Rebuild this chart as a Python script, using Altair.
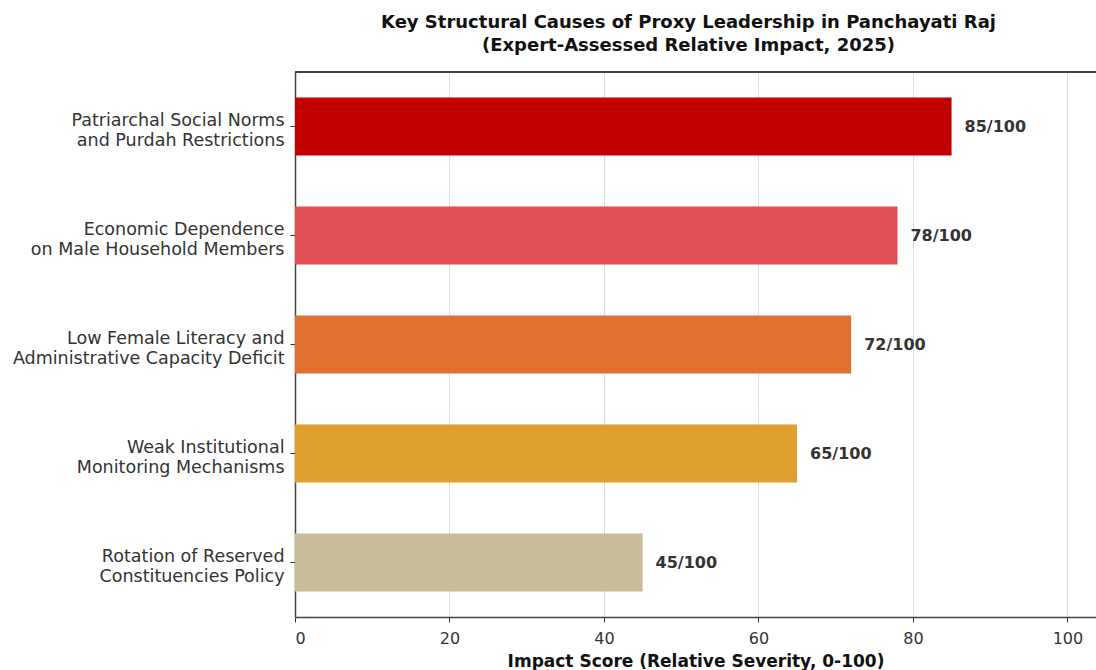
import altair as alt
import pandas as pd

categories = [
    ["Patriarchal Social Norms", "and Purdah Restrictions"],
    ["Economic Dependence", "on Male Household Members"],
    ["Low Female Literacy and", "Administrative Capacity Deficit"],
    ["Weak Institutional", "Monitoring Mechanisms"],
    ["Rotation of Reserved", "Constituencies Policy"],
]
scores = [85, 78, 72, 65, 45]
colors = ["#C00000", "#E04F52", "#E07030", "#E0A030", "#C8BD98"]
x_ticks = [0, 20, 40, 60, 80, 100]

keys = [" ".join(c) for c in categories]
df = pd.DataFrame({
    "cause": keys,
    "score": scores,
    "label": [f"{s}/100" for s in scores],
    "color": colors,
})
label_map = {k: c for k, c in zip(keys, categories)}
label_expr = "{" + ",".join(f'"{k}": {c!r}'.replace("'", '"') for k, c in label_map.items()) + "}[datum.value]"

FONT = "DejaVu Sans"
W, H = 801, 545

x = alt.X("score:Q",
          scale=alt.Scale(domain=[0, 103.7], nice=False, zero=True),
          axis=alt.Axis(values=x_ticks, title="Impact Score (Relative Severity, 0-100)",
                        titleFontWeight="bold", titleFontSize=17, titleFont=FONT,
                        titleColor="#111", titlePadding=7, titleBaseline="top",
                        labelFont=FONT, labelFontSize=16, labelColor="#333",
                        tickColor="#333", tickSize=5, labelPadding=8,
                        domainColor="#444", domainWidth=1.5,
                        gridColor="#DDDDDD", gridWidth=1))
y = alt.Y("cause:N", sort=keys,
          scale=alt.Scale(paddingInner=0.47, paddingOuter=0.235),
          axis=alt.Axis(title=None, labelExpr=label_expr, labelFont=FONT,
                        labelFontSize=17.5, labelColor="#333", labelLineHeight=20,
                        labelLimit=400, labelOffset=-6,
                        tickColor="#333", tickSize=5, labelPadding=6,
                        domainColor="#444", domainWidth=1.5, grid=False))

bars = alt.Chart(df).mark_bar().encode(
    x=x, y=y, color=alt.Color("color:N", scale=None)
)
text = alt.Chart(df).mark_text(align="left", baseline="middle", dx=13,
                               font=FONT, fontSize=16, fontWeight="bold",
                               color="#333").encode(
    x=alt.X("score:Q"), y=alt.Y("cause:N", sort=keys), text="label:N")
top = alt.Chart(df).mark_rule(color="#444", strokeWidth=1.5).encode(
    x=alt.value(0), x2=alt.value(W), y=alt.value(0))

chart = alt.layer(bars, text, top).properties(
    width=W, height=H,
    title=alt.TitleParams(
        ["Key Structural Causes of Proxy Leadership in Panchayati Raj",
         "(Expert-Assessed Relative Impact, 2025)"],
        font=FONT, fontSize=18, fontWeight="bold", color="#111",
        anchor="middle", lineHeight=23, offset=16, dx=-7),
    autosize=alt.AutoSizeParams(type="none"),
    padding={"left": 295, "top": 72, "right": 0, "bottom": 53},
).configure_view(fill="#F7F7F7", stroke=None).configure(background="white")

chart.save("out.html", embed_options={"renderer": "svg", "actions": False})
